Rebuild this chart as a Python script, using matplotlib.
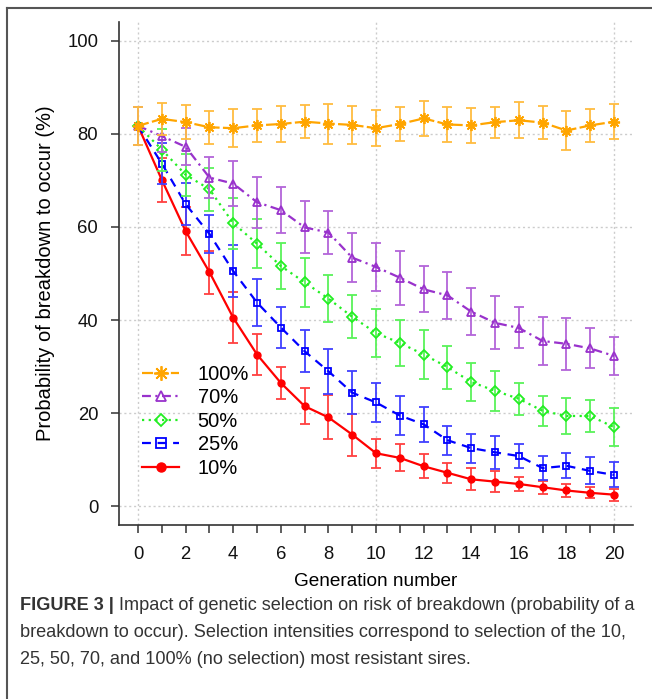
import matplotlib.pyplot as plt
from matplotlib.lines import Line2D
from matplotlib.colors import to_rgb

plt.rcParams['font.family'] = ['Liberation Sans', 'DejaVu Sans']

# data
gen = list(range(21))
p100 = [81.7, 83.2, 82.5, 81.4, 81.2, 81.8, 82.1, 82.6, 82.2, 81.9, 81.2, 82.1, 83.3, 82.0, 81.8, 82.5, 82.9, 82.4, 80.7, 81.8, 82.6]
e100 = [4.1, 3.5, 3.7, 3.5, 4.1, 3.6, 3.9, 3.6, 4.3, 4.0, 3.9, 3.7, 3.7, 3.8, 3.8, 3.3, 3.9, 3.6, 4.2, 3.6, 3.7]
p70 = [81.7, 79.5, 77.2, 70.6, 69.3, 65.3, 63.6, 59.9, 58.8, 53.4, 51.4, 49.1, 46.6, 45.3, 41.8, 39.4, 38.3, 35.5, 34.9, 33.9, 32.3]
e70 = [4.1, 3.5, 4.0, 4.4, 4.9, 5.5, 5.0, 5.6, 4.7, 5.3, 5.1, 5.8, 4.9, 5.1, 5.1, 5.7, 4.4, 5.2, 5.6, 4.3, 4.1]
p50 = [81.7, 76.6, 71.2, 68.1, 60.8, 56.4, 51.6, 48.1, 44.6, 40.7, 37.2, 35.1, 32.6, 29.9, 26.7, 24.8, 23.1, 20.5, 19.4, 19.4, 17.0]
e50 = [4.1, 4.5, 4.5, 4.6, 5.5, 5.2, 5.0, 5.3, 5.0, 4.6, 5.1, 4.9, 5.3, 4.6, 4.1, 4.3, 3.4, 3.2, 3.9, 3.5, 4.1]
p25 = [81.7, 73.6, 64.9, 58.5, 50.5, 43.75, 38.4, 33.3, 29.0, 24.4, 22.3, 19.5, 17.6, 14.2, 12.5, 11.6, 10.8, 8.2, 8.7, 7.6, 6.75]
e25 = [4.1, 4.4, 4.5, 4.1, 5.6, 5.0, 4.4, 4.5, 4.8, 4.6, 4.2, 4.2, 3.8, 3.1, 3.1, 3.5, 2.6, 2.5, 2.7, 2.9, 2.7]
p10 = [81.7, 70.1, 59.1, 50.3, 40.5, 32.6, 26.5, 21.5, 19.1, 15.4, 11.4, 10.4, 8.6, 7.2, 5.8, 5.3, 4.8, 4.1, 3.4, 2.9, 2.5]
e10 = [4.1, 4.8, 5.1, 4.6, 5.5, 4.4, 3.4, 3.9, 4.7, 4.5, 3.1, 2.9, 2.6, 2.2, 2.4, 2.3, 1.6, 1.4, 1.5, 1.2, 1.3]

labels = ["100%", "70%", "50%", "25%", "10%"]


def lighter(c, f=0.25):
    r, g, b = to_rgb(c)
    return (r + (1 - r) * f, g + (1 - g) * f, b + (1 - b) * f)


fig = plt.figure(figsize=(6.52, 6.99), dpi=100)
ax = fig.add_axes([0.1825, 0.249, 0.7885, 0.7195])

series = [
    (p100, e100, "#FFA500", (0, (5, 1.5)), dict(marker=(8, 2, 0), markersize=8, mew=1.3)),
    (p70, e70, "#9932CC", (0, (4, 2, 1, 2)), dict(marker="^", markersize=6, mfc="none", mew=1.3)),
    (p50, e50, "#22EE22", (0, (1, 2)), dict(marker="D", markersize=5, mfc="none", mew=1.3)),
    (p25, e25, "#0000FF", (0, (4, 3)), dict(marker="s", markersize=5, mfc="none", mew=1.3)),
    (p10, e10, "#FF0000", "-", dict(marker="o", markersize=5)),
]

handles = []
for i, (y, e, c, ls, mk) in enumerate(series):
    z = 10 - 2 * i
    ax.errorbar(gen, y, yerr=e, fmt="none", ecolor=lighter(c),
                elinewidth=1.3, capsize=3.5, capthick=1.3, zorder=z)
    ax.plot(gen, y, color=c, linestyle=ls, linewidth=1.6, mec=c, zorder=z + 1, **mk)
    hk = dict(mk)
    hk["markersize"] = mk["markersize"] * 1.3
    handles.append(Line2D([], [], color=c, linestyle=ls, linewidth=1.6, mec=c, **hk))

ax.set_xlim(-0.8, 20.8)
ax.set_ylim(-4, 104)
ax.set_xticks(gen)
ax.set_xticklabels([str(g) if g % 2 == 0 else "" for g in gen])
ax.set_yticks([0, 20, 40, 60, 80, 100])

for v in [0, 20, 40, 60, 80, 100]:
    ax.axhline(v, color="#cccccc", linestyle=(0, (1.5, 2)), linewidth=1, zorder=0)
for v in [0, 10, 20]:
    ax.axvline(v, color="#cccccc", linestyle=(0, (1.5, 2)), linewidth=1, zorder=0)

for s in ["top", "right"]:
    ax.spines[s].set_visible(False)
for s in ["left", "bottom"]:
    ax.spines[s].set_color("#333333")
    ax.spines[s].set_linewidth(1.2)
ax.tick_params(direction="out", length=6, width=1.1, color="#333333",
               labelsize=13.3, labelcolor="#111111", pad=9)

ax.set_xlabel("Generation number", fontsize=13.7, labelpad=7)
ax.set_ylabel("Probability of breakdown to occur (%)", fontsize=14.5, labelpad=9)

ax.legend(handles, labels, loc="upper left", bbox_to_anchor=(0.045, 0.318),
          frameon=False, fontsize=14.5, handlelength=1.85, handletextpad=0.9,
          labelspacing=0.22, borderpad=0, borderaxespad=0)

# frame lines around the figure panel
fig.add_artist(Line2D([0.011, 1.0], [0.989, 0.989], color="#555555", lw=1.5))
fig.add_artist(Line2D([0.011, 0.011], [0.0, 0.989], color="#555555", lw=1.5))

cap_color = "#333333"
cap_size = 13.1
t = fig.text(0.031, 0.128, "FIGURE 3 |", fontsize=cap_size, fontweight="bold",
             color=cap_color, va="baseline")
ax.annotate(" Impact of genetic selection on risk of breakdown (probability of a",
            xy=(1, 0), xycoords=t, va="bottom", ha="left", fontsize=cap_size,
            color=cap_color, annotation_clip=False)
fig.text(0.031, 0.089, "breakdown to occur). Selection intensities correspond to selection of the 10,",
         fontsize=cap_size, color=cap_color, va="baseline")
fig.text(0.031, 0.050, "25, 50, 70, and 100% (no selection) most resistant sires.",
         fontsize=cap_size, color=cap_color, va="baseline")

plt.savefig("out.png", dpi=100)
